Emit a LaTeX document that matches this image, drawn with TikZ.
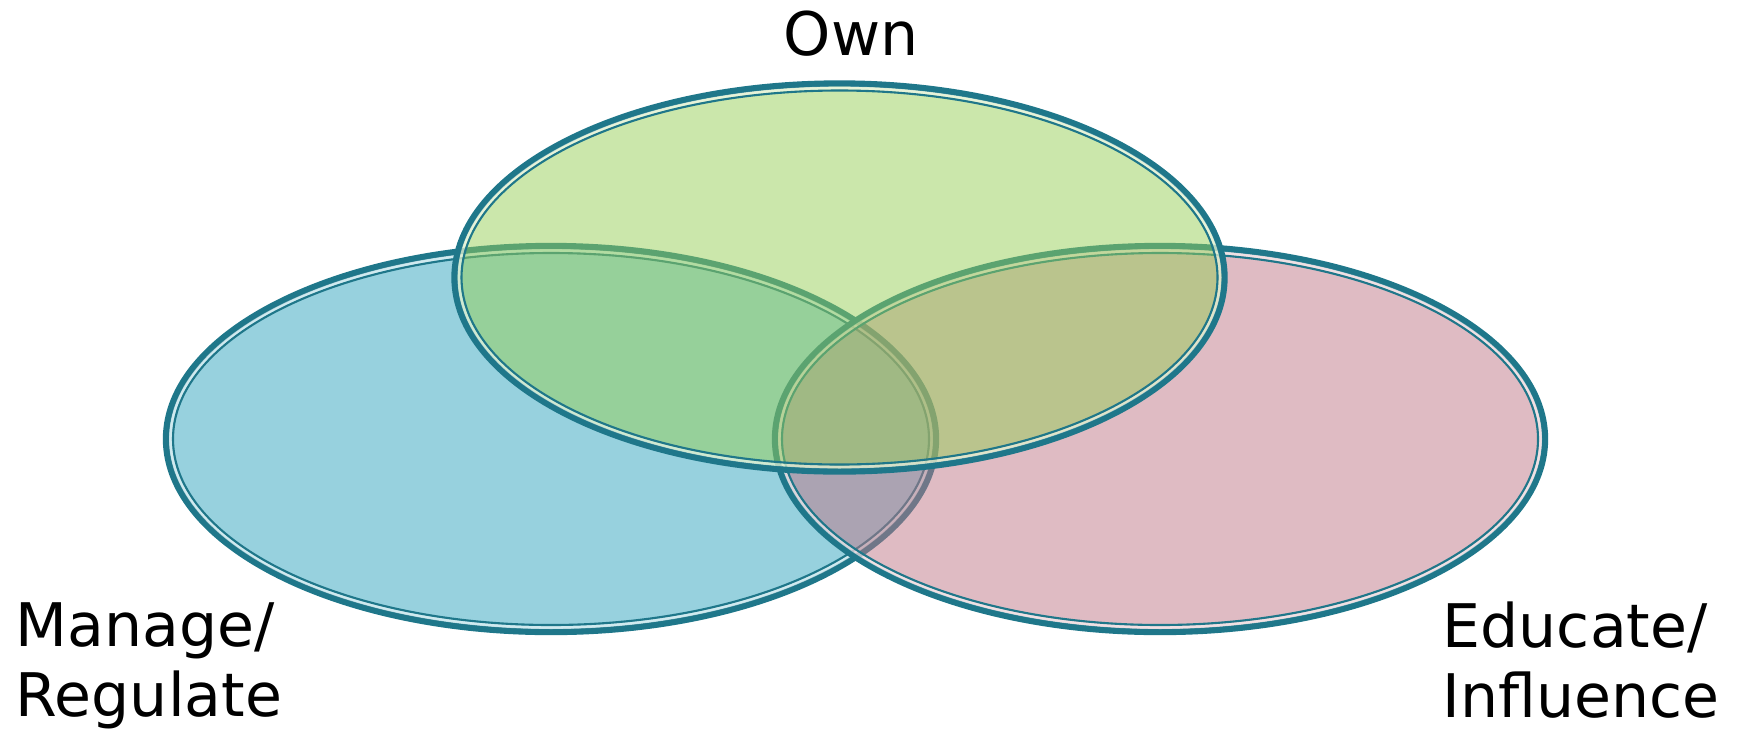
\documentclass[tikz,border=0pt]{standalone}
\usepackage{fontspec}
\setmainfont{DejaVu Sans}
\usepackage{xcolor}
\usepackage{tikz}
\definecolor{VennBlue}{HTML}{2FA3BD}
\definecolor{VennPink}{HTML}{BF7787}
\definecolor{VennGreen}{HTML}{97CF57}
\definecolor{VennRim}{HTML}{1F778A}

\begin{document}
\begin{tikzpicture}[x=1cm,y=1cm,
  rim/.style={draw=VennRim,line width=1.8pt},
  rimgap/.style={draw=white,draw opacity=.55,line width=.85pt},
  rimthin/.style={draw=VennRim,line width=.6pt},
  lbl/.style={font=\fontsize{17.1}{19.9}\selectfont,inner sep=0pt,align=left}]
\path[use as bounding box] (0,0) rectangle (17.41,7.38);
% Manage / Regulate
\fill[VennBlue,fill opacity=.5] (5.51,2.99) ellipse (3.85 and 1.93);
\draw[rim] (5.51,2.99) ellipse (3.85 and 1.93);
\draw[rimgap] (5.51,2.99) ellipse (3.805 and 1.885);
\draw[rimthin] (5.51,2.99) ellipse (3.78 and 1.86);
% Educate / Influence
\fill[VennPink,fill opacity=.5] (11.60,2.99) ellipse (3.85 and 1.93);
\draw[rim] (11.60,2.99) ellipse (3.85 and 1.93);
\draw[rimgap] (11.60,2.99) ellipse (3.805 and 1.885);
\draw[rimthin] (11.60,2.99) ellipse (3.78 and 1.86);
% Own
\fill[VennGreen,fill opacity=.5] (8.395,4.605) ellipse (3.85 and 1.94);
\draw[rim] (8.395,4.605) ellipse (3.85 and 1.94);
\draw[rimgap] (8.395,4.605) ellipse (3.805 and 1.895);
\draw[rimthin] (8.395,4.605) ellipse (3.78 and 1.87);
% labels (base = last line)
\node[lbl,anchor=base] (own) at (8.51,6.83) {Own};
\node[lbl,anchor=base west] (manage) at (0.15,0.22) {Manage/\\Regulate};
\node[lbl,anchor=base west] (educate) at (14.42,0.21) {Educate/\\Influence};
\end{tikzpicture}
\end{document}
